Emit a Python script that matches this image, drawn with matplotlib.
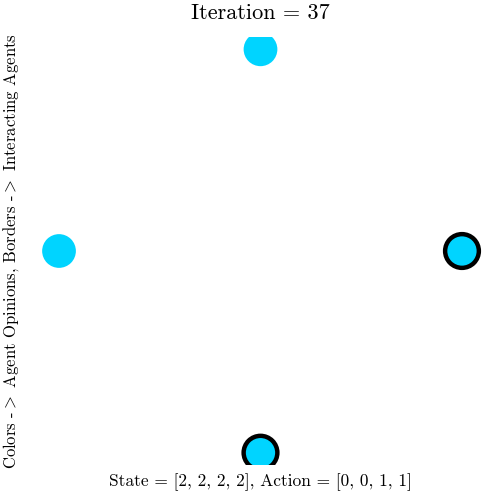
import numpy as np
import matplotlib
matplotlib.use("Agg")
import matplotlib.pyplot as plt

plt.rcParams['font.family'] = 'serif'
plt.rcParams['font.serif'] = ['cmr10', 'DejaVu Serif']
plt.rcParams['mathtext.fontset'] = 'cm'
plt.rcParams['axes.unicode_minus'] = False

iteration = 37
state = [2, 2, 2, 2]
action = [0, 0, 1, 1]
n_agents = 4
agent_color = '#00D4FF'

W = 499
fig = plt.figure(figsize=(4.99, 4.99), dpi=100)
ax = fig.add_axes([30 / W, (W - 465) / W, 461 / W, 428 / W])

theta = np.pi / 2 + 2 * np.pi * np.arange(n_agents) / n_agents
xs = np.cos(theta)
ys = np.sin(theta)
edgecolors = ['black' if a == 1 else agent_color for a in action]
lws = [3.2 if a == 1 else 0.0 for a in action]
ax.scatter(xs, ys, s=590, c=[agent_color] * n_agents, edgecolors=edgecolors,
           linewidths=lws, zorder=3)

ax.set_xlim(-1.144, 1.144)
ax.set_ylim(-1.061, 1.061)
ax.set_xticks([])
ax.set_yticks([])
for sp in ax.spines.values():
    sp.set_visible(False)

ax.set_title(f'Iteration = {iteration}', fontsize=16, pad=13)
ax.set_xlabel('State = [' + ', '.join(map(str, state)) + '], Action = ['
              + ', '.join(map(str, action)) + ']', fontsize=12.5)
ax.set_ylabel(r'Colors -$>$ Agent Opinions, Borders -$>$ Interacting Agents', fontsize=12)
ax.xaxis.set_label_coords(0.5, -0.019)
ax.yaxis.set_label_coords(-0.02, 0.5)

fig.savefig('out.png', dpi=100)
